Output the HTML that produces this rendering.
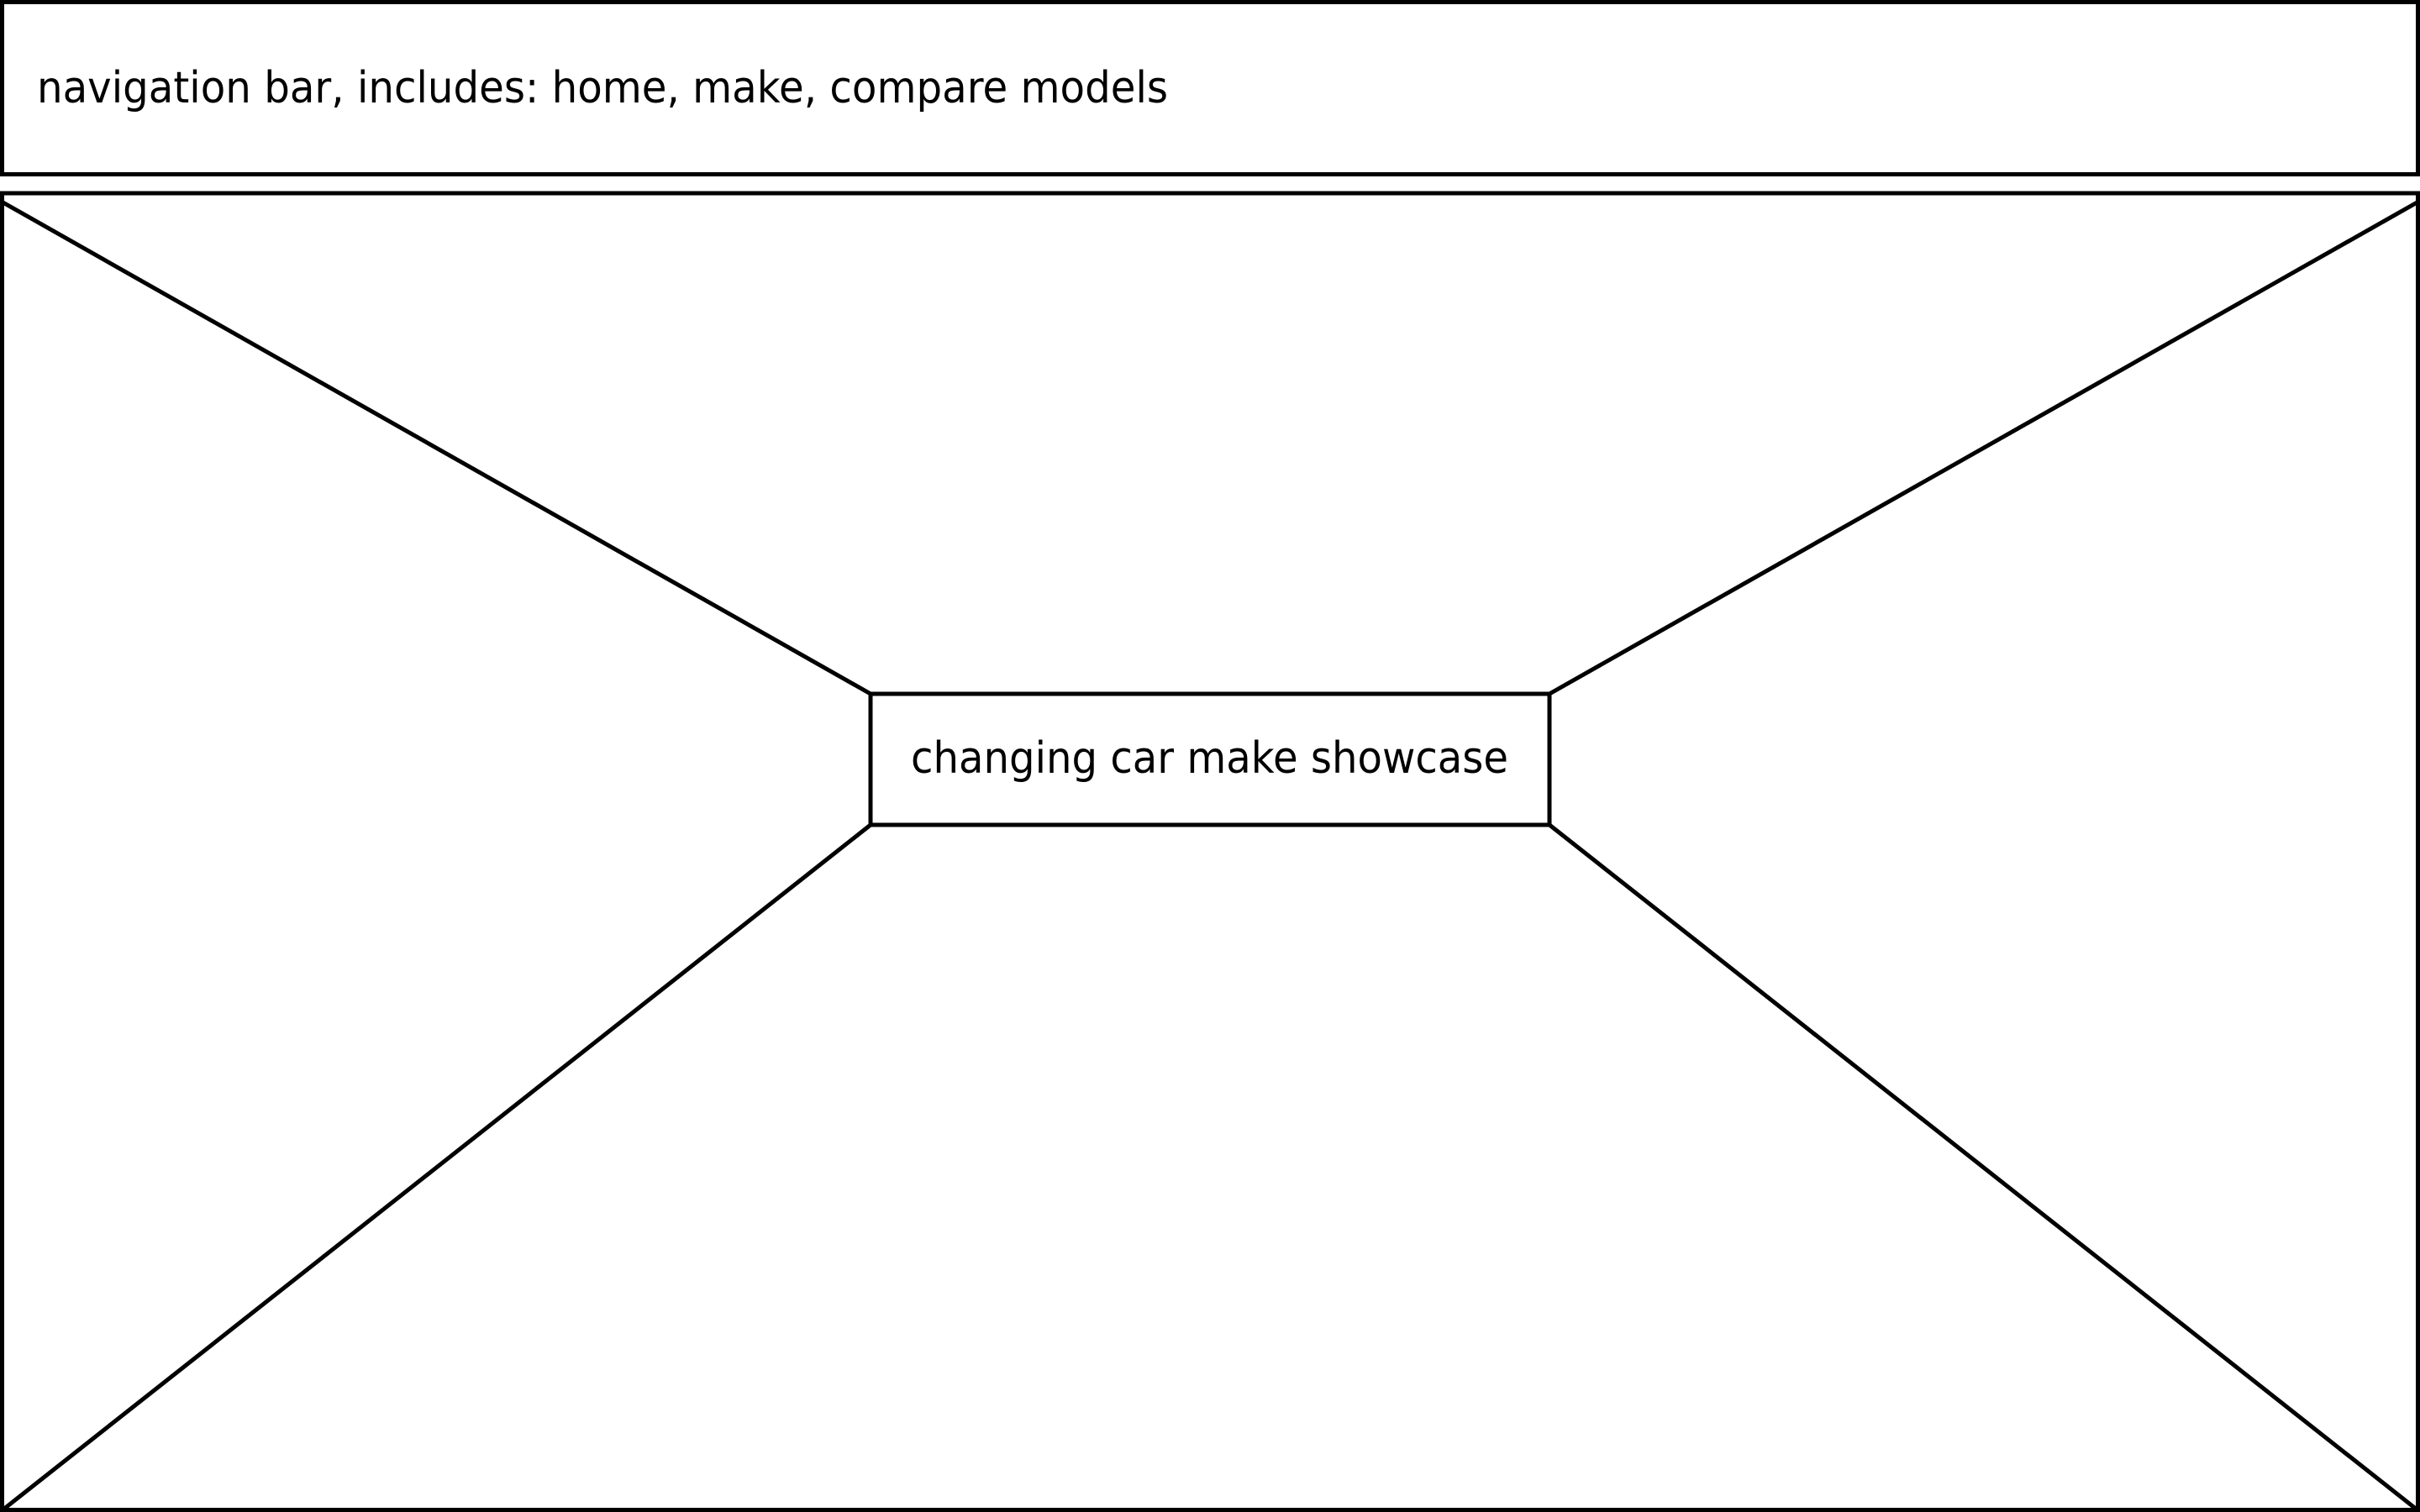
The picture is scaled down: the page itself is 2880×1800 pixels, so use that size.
<!DOCTYPE html>
<html><head><style>html,body{margin:0;padding:0;background:#fff}svg{display:block}</style></head>
<body>
<svg width="2880" height="1800" viewBox="0 0 2880 1800" xmlns="http://www.w3.org/2000/svg">
<g fill="none" stroke="#000" stroke-width="5">
<rect x="2.5" y="2.5" width="2875" height="205"/>
<rect x="2.5" y="230" width="2875" height="1567.5"/>
<line x1="0" y1="239" x2="1036" y2="826"/>
<line x1="2880" y1="239" x2="1844" y2="826"/>
<line x1="1036" y1="982" x2="0" y2="1800"/>
<line x1="1844" y1="982" x2="2880" y2="1800"/>
<rect x="1036" y="826" width="808" height="156"/>
</g>
<g font-family="DejaVu Sans, Liberation Sans, sans-serif" font-size="52" fill="#000">
<text x="44" y="122" textLength="1346" lengthAdjust="spacingAndGlyphs">navigation bar, includes: home, make, compare models</text>
<text x="1084" y="920" textLength="711" lengthAdjust="spacingAndGlyphs">changing car make showcase</text>
</g>
</svg>
</body></html>
